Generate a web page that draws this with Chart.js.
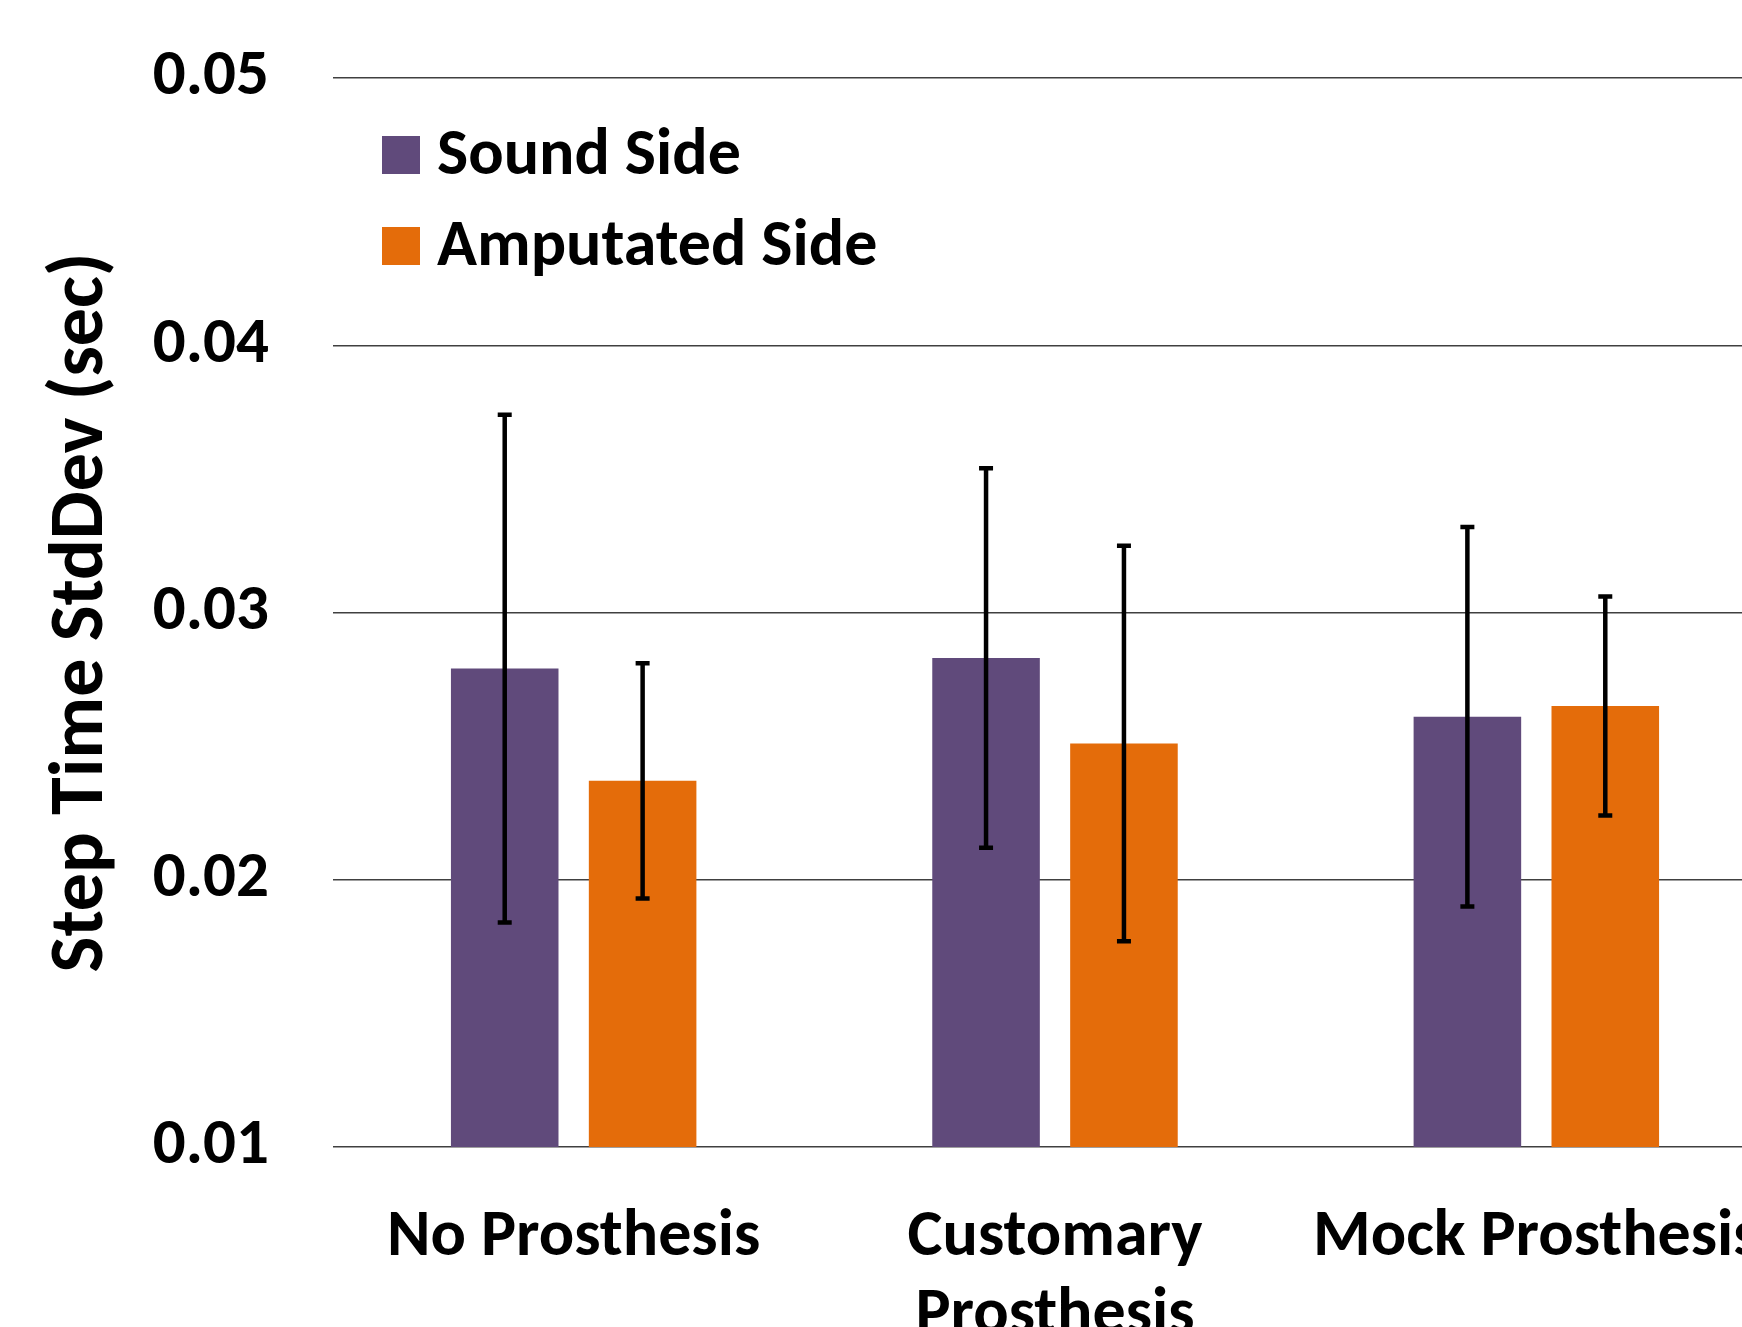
<!DOCTYPE html>
<html>
<head>
<meta charset="utf-8">
<script src="https://cdn.jsdelivr.net/npm/chart.js@4"></script>
<style>
  html, body { margin: 0; padding: 0; background: #fff; overflow: hidden; width: 1742px; height: 1327px; }
  canvas { display: block; }
</style>
</head>
<body>
<canvas id="stepChart" width="1780" height="1327"></canvas>
<script>

// ─────────────────────────────────────
// DATA
// ─────────────────────────────────────

const categories = [["No Prosthesis"], ["Customary", "Prosthesis"], ["Mock Prosthesis"]];

const soundMean = [0.0279, 0.0283, 0.0261];
const soundSD = [0.0095, 0.0071, 0.0071];

const amputatedMean = [0.0237, 0.0251, 0.0265];
const amputatedSD = [0.0044, 0.0074, 0.0041];

const yTicks = [0.01, 0.02, 0.03, 0.04, 0.05];

const FONT = 'Carlito, Lato, sans-serif';


// ─────────────────────────────────────
// ERROR BARS
// ─────────────────────────────────────

const errorBars = {
    id: "errorBars",
    afterDatasetsDraw(chart) {
        const ctx = chart.ctx;
        const y = chart.scales.y;
        chart.data.datasets.forEach((ds, i) => {
            const meta = chart.getDatasetMeta(i);
            meta.data.forEach((bar, j) => {
                const top = y.getPixelForValue(ds.data[j] + ds.sd[j]);
                const bottom = y.getPixelForValue(ds.data[j] - ds.sd[j]);
                ctx.save();
                ctx.strokeStyle = "#000";
                ctx.lineWidth = 4.5;
                ctx.beginPath();
                ctx.moveTo(bar.x, top);
                ctx.lineTo(bar.x, bottom);
                ctx.moveTo(bar.x - 7, top);
                ctx.lineTo(bar.x + 7, top);
                ctx.moveTo(bar.x - 7, bottom);
                ctx.lineTo(bar.x + 7, bottom);
                ctx.stroke();
                ctx.restore();
            });
        });
    }
};


// ─────────────────────────────────────
// LEGEND (inside plot, top left)
// ─────────────────────────────────────

const insideLegend = {
    id: "insideLegend",
    afterDraw(chart) {
        const ctx = chart.ctx;
        ctx.save();
        ctx.font = "bold 66px " + FONT;
        ctx.textBaseline = "middle";
        chart.data.datasets.forEach((ds, i) => {
            const cy = 155 + i * 91;
            ctx.fillStyle = ds.backgroundColor;
            ctx.fillRect(382, cy - 19, 38, 38);
            ctx.fillStyle = "#000";
            ctx.fillText(ds.label, 437, cy + 2);
        });
        ctx.restore();
    }
};


// ─────────────────────────────────────
// BAR CHART
// ─────────────────────────────────────

new Chart(document.getElementById("stepChart"), {

    type: "bar",

    data: {
        labels: categories,
        datasets: [
            {
                label: "Sound Side",
                data: soundMean,
                sd: soundSD,
                backgroundColor: "#604A7B",
                barPercentage: 0.78,
                categoryPercentage: 0.573
            },
            {
                label: "Amputated Side",
                data: amputatedMean,
                sd: amputatedSD,
                backgroundColor: "#E46C0A",
                barPercentage: 0.78,
                categoryPercentage: 0.573
            }
        ]
    },

    options: {
        responsive: false,
        animation: false,
        layout: {
            padding: { top: 78, right: 3, bottom: 0, left: 0 }
        },
        plugins: {
            legend: { display: false },
            tooltip: { enabled: false }
        },
        scales: {
            x: {
                grid: { display: false },
                border: { display: false },
                ticks: {
                    color: "#000",
                    padding: 45,
                    maxRotation: 0,
                    autoSkip: false,
                    font: { family: FONT, size: 66, weight: "bold", lineHeight: 1.18 }
                },
                afterFit(scale) {
                    scale.height = 180;
                    scale.paddingLeft = 0;
                    scale.paddingRight = 0;
                }
            },
            y: {
                min: 0.01,
                max: 0.05,
                afterBuildTicks(scale) {
                    scale.ticks = yTicks.map(v => ({ value: v }));
                },
                grid: {
                    color: "#404040",
                    lineWidth: 1.5,
                    drawTicks: false
                },
                border: { display: false },
                ticks: {
                    color: "#000",
                    padding: 64,
                    callback: v => v.toFixed(2),
                    font: { family: FONT, size: 65, weight: "bold" }
                },
                title: {
                    display: true,
                    text: "Step Time StdDev (sec)",
                    color: "#000",
                    padding: { top: 37, bottom: 0 },
                    font: { family: FONT, size: 76, weight: "bold", lineHeight: 1.2 }
                },
                afterFit(scale) {
                    scale.width = 333;
                    scale.paddingTop = 0;
                    scale.paddingBottom = 0;
                }
            }
        }
    },

    plugins: [errorBars, insideLegend]
});

</script>
</body>
</html>
